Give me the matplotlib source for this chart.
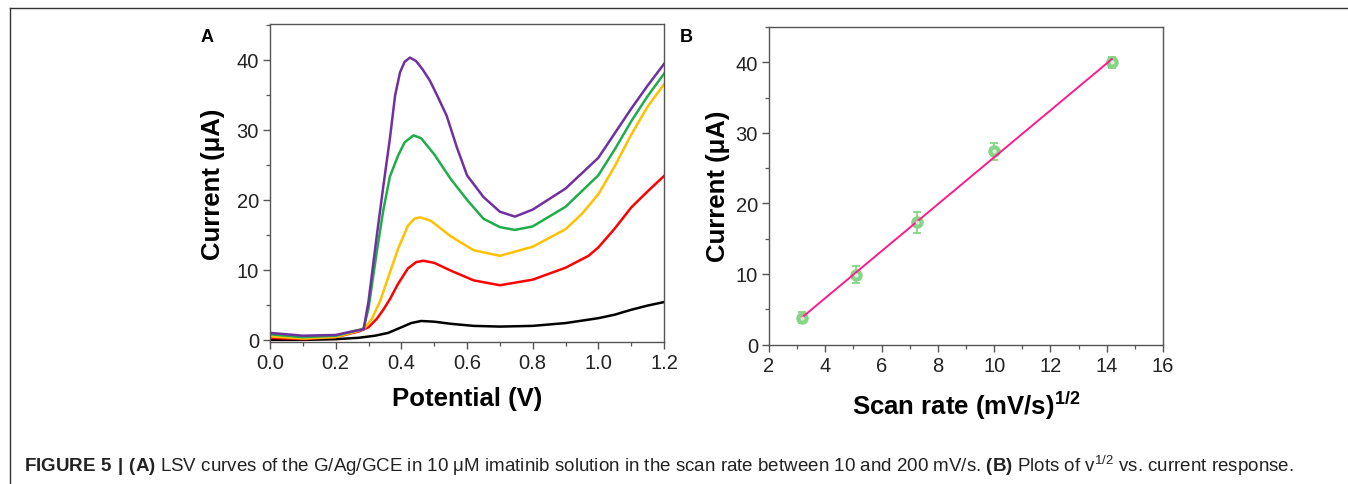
import matplotlib
matplotlib.use("Agg")
import matplotlib.pyplot as plt
import numpy as np
from matplotlib.lines import Line2D
from matplotlib.ticker import MultipleLocator

plt.rcParams["font.family"] = ["Liberation Sans", "DejaVu Sans"]
plt.rcParams["mathtext.fontset"] = "custom"
plt.rcParams["mathtext.rm"] = "Liberation Sans"
plt.rcParams["mathtext.bf"] = "Liberation Sans:bold"

# panel A: LSV curves, potential (V) vs current (uA)
pot_black = [0.0, 0.1, 0.2, 0.27, 0.32, 0.36, 0.40, 0.43, 0.46, 0.50, 0.55, 0.62, 0.70, 0.80, 0.90, 1.00, 1.05, 1.10, 1.15, 1.20]
cur_black = [0.0, 0.0, 0.1, 0.3, 0.6, 1.0, 1.8, 2.4, 2.7, 2.6, 2.3, 2.0, 1.9, 2.0, 2.4, 3.1, 3.6, 4.3, 4.9, 5.4]

pot_red = [0.0, 0.1, 0.2, 0.27, 0.30, 0.325, 0.345, 0.365, 0.39, 0.42, 0.445, 0.466, 0.50, 0.55, 0.62, 0.70, 0.80, 0.90, 0.97, 1.00, 1.05, 1.10, 1.15, 1.20]
cur_red = [0.3, 0.1, 0.4, 1.2, 1.8, 3.0, 4.3, 5.8, 8.0, 10.2, 11.1, 11.3, 11.0, 9.9, 8.5, 7.8, 8.6, 10.3, 12.0, 13.2, 15.9, 18.9, 21.2, 23.4]

pot_yellow = [0.0, 0.1, 0.2, 0.27, 0.29, 0.31, 0.335, 0.365, 0.39, 0.42, 0.44, 0.457, 0.49, 0.55, 0.62, 0.70, 0.80, 0.90, 0.95, 1.00, 1.05, 1.10, 1.15, 1.20]
cur_yellow = [0.5, 0.2, 0.4, 1.3, 1.8, 3.0, 5.5, 9.6, 13.0, 16.3, 17.3, 17.5, 17.0, 14.8, 12.8, 12.0, 13.3, 15.8, 18.0, 20.8, 24.8, 29.3, 33.3, 36.5]

pot_green = [0.0, 0.1, 0.2, 0.26, 0.285, 0.30, 0.325, 0.345, 0.365, 0.39, 0.41, 0.437, 0.46, 0.50, 0.55, 0.60, 0.65, 0.70, 0.746, 0.80, 0.90, 1.00, 1.05, 1.10, 1.15, 1.20]
cur_green = [0.8, 0.4, 0.6, 1.3, 1.6, 4.5, 12.5, 18.5, 23.3, 26.3, 28.2, 29.2, 28.8, 26.5, 23.0, 20.0, 17.3, 16.1, 15.7, 16.2, 19.0, 23.5, 27.2, 31.2, 34.8, 38.0]

pot_purple = [0.0, 0.1, 0.2, 0.26, 0.285, 0.30, 0.325, 0.345, 0.365, 0.381, 0.396, 0.41, 0.426, 0.445, 0.465, 0.487, 0.51, 0.538, 0.569, 0.60, 0.65, 0.70, 0.746, 0.80, 0.90, 1.00, 1.05, 1.10, 1.15, 1.20]
cur_purple = [1.0, 0.6, 0.7, 1.3, 1.5, 5.5, 14.8, 21.9, 28.7, 34.9, 38.2, 39.7, 40.3, 39.8, 38.6, 37.0, 34.8, 32.0, 27.5, 23.5, 20.4, 18.3, 17.6, 18.6, 21.6, 26.0, 29.5, 33.0, 36.3, 39.4]

# panel B: current vs square root of scan rate
sqrt_rate = [3.17, 5.08, 7.25, 10.0, 14.18]
peak_current = [3.8, 9.9, 17.3, 27.4, 40.0]
current_err = [0.8, 1.2, 1.5, 1.2, 0.8]

curves = [
    (pot_black, cur_black, "#000000"),
    (pot_red, cur_red, "#ff0000"),
    (pot_yellow, cur_yellow, "#ffc000"),
    (pot_green, cur_green, "#1fad4b"),
    (pot_purple, cur_purple, "#7030a0"),
]

fig = plt.figure(figsize=(13.48, 4.85), dpi=100)

# thin frame around figure (top + left)
fig.add_artist(Line2D([10 / 1348, 1.0], [1 - 9 / 485, 1 - 9 / 485], color="#333333", lw=1.0))
fig.add_artist(Line2D([10 / 1348, 10 / 1348], [0.0, 1 - 9 / 485], color="#333333", lw=1.0))

spine_col = "#555555"
tick_fs = 14.5
label_fs = 18.5


def style_axes(ax):
    for sp in ax.spines.values():
        sp.set_color(spine_col)
        sp.set_linewidth(1.0)
    ax.tick_params(which="major", direction="out", length=5, width=1.0, color=spine_col,
                   labelsize=tick_fs, labelcolor="#222222", pad=3)
    ax.tick_params(which="minor", direction="out", length=3, width=0.9, color=spine_col)


axA = fig.add_axes([0.2003, 0.2928, 0.2923, 0.6557])
for x, y, c in curves:
    axA.plot(x, y, color=c, lw=1.8, solid_joinstyle="round")
axA.set_xlim(0, 1.2)
axA.set_ylim(-0.3, 45.1)
axA.xaxis.set_major_locator(MultipleLocator(0.2))
axA.xaxis.set_minor_locator(MultipleLocator(0.1))
axA.yaxis.set_major_locator(MultipleLocator(10))
axA.yaxis.set_minor_locator(MultipleLocator(5))
axA.set_xticks(np.arange(0, 1.21, 0.2))
axA.set_xticklabels(["0.0", "0.2", "0.4", "0.6", "0.8", "1.0", "1.2"])
style_axes(axA)
axA.set_xlabel("Potential (V)", fontsize=label_fs, fontweight="bold", labelpad=10)
axA.set_ylabel("Current (μA)", fontsize=label_fs, fontweight="bold", labelpad=8)
fig.text(207 / 1348, 1 - 37 / 485, "A", fontsize=13, fontweight="bold", ha="center", va="center")

axB = fig.add_axes([0.5705, 0.2876, 0.2923, 0.6546])
fit = np.polyfit(sqrt_rate, peak_current, 1)
xs = np.array([sqrt_rate[0], sqrt_rate[-1]])
axB.plot(xs, np.polyval(fit, xs), color="#ff1a8c", lw=1.4, zorder=3)
axB.errorbar(sqrt_rate, peak_current, yerr=current_err, fmt="o", ms=8, color="#86d586",
             mfc="#86d586", mec="#86d586", ecolor="#86d586", elinewidth=1.3, capsize=3,
             capthick=1.3, zorder=2)
axB.plot(sqrt_rate, peak_current, "o", ms=2, color="white", alpha=0.6, zorder=4)
axB.set_xlim(2, 16)
axB.set_ylim(0, 45)
axB.xaxis.set_major_locator(MultipleLocator(2))
axB.xaxis.set_minor_locator(MultipleLocator(1))
axB.yaxis.set_major_locator(MultipleLocator(10))
axB.yaxis.set_minor_locator(MultipleLocator(5))
style_axes(axB)
axB.set_xlabel(r"Scan rate (mV/s)$^{\mathbf{1/2}}$", fontsize=label_fs, fontweight="bold", labelpad=10)
axB.set_ylabel("Current (μA)", fontsize=label_fs, fontweight="bold", labelpad=4)
fig.text(686 / 1348, 1 - 37 / 485, "B", fontsize=13, fontweight="bold", ha="center", va="center")

caption = (r"$\mathbf{FIGURE\ 5\ |\ (A)}$ LSV curves of the G/Ag/GCE in 10 μM imatinib solution "
           r"in the scan rate between 10 and 200 mV/s. $\mathbf{(B)}$ Plots of v$^{1/2}$ vs. current response.")
fig.text(24 / 1348, 1 - 466 / 485, caption, fontsize=13.5, color="#222222", ha="left", va="center")

fig.savefig("out.png", dpi=100)
